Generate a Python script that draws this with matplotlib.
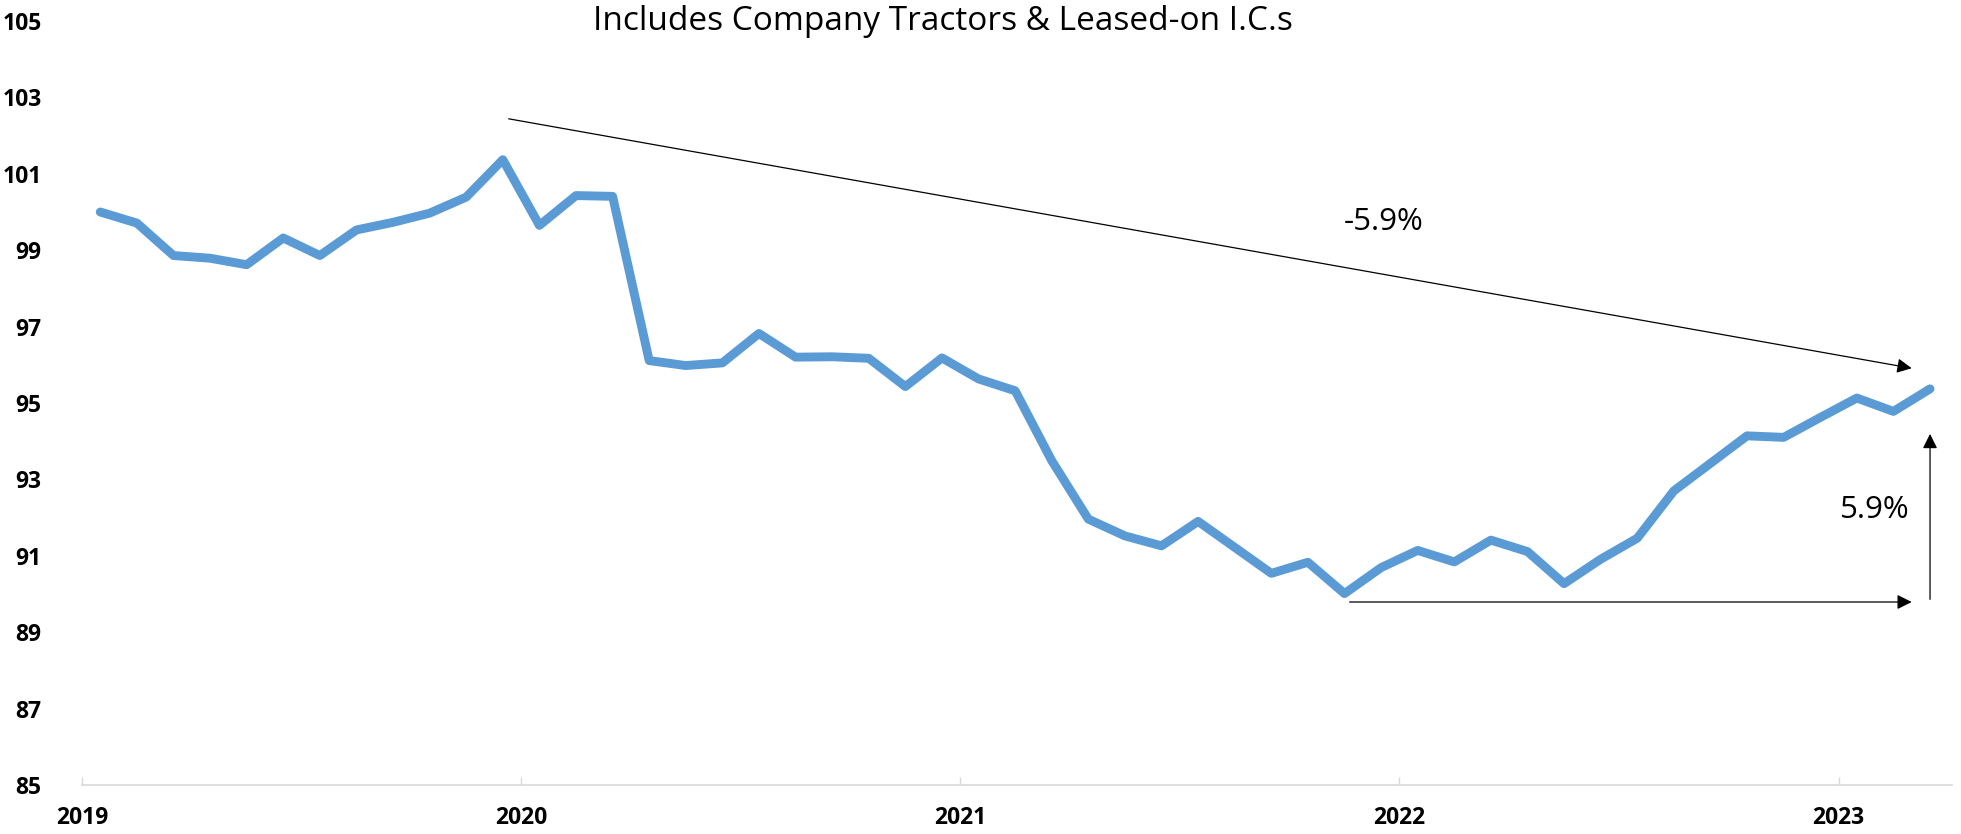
import matplotlib
matplotlib.use("Agg")
import matplotlib.pyplot as plt
import numpy as np

plt.rcParams['font.family'] = ['Open Sans', 'DejaVu Sans']

# Monthly index, Jan 2019 .. Mar 2023
values = [100.00, 99.71, 98.86, 98.79, 98.62, 99.32, 98.86, 99.53, 99.73, 99.97,
          100.39, 101.37, 99.65, 100.43, 100.41, 96.11, 95.98, 96.05, 96.82, 96.20,
          96.21, 96.17, 95.43, 96.18, 95.63, 95.32, 93.49, 91.96, 91.52, 91.26,
          91.90, 91.22, 90.54, 90.83, 90.01, 90.69, 91.14, 90.84, 91.41, 91.11,
          90.27, 90.91, 91.46, 92.70, 93.42, 94.14, 94.10, 94.62, 95.13, 94.78,
          95.37]
year_labels = ["2019", "2020", "2021", "2022", "2023"]
y_ticks = [85, 87, 89, 91, 93, 95, 97, 99, 101, 103, 105]
title = "Includes Company Tractors & Leased-on I.C.s"
down_label = "-5.9%"
up_label = "5.9%"

x = np.arange(len(values))

fig = plt.figure(figsize=(19.61, 8.34), dpi=100)
ax = fig.add_axes([0.0418, 0.0588, 0.9536, 0.9160])

ax.plot(x, values, color='#5B9BD5', lw=6.4, solid_capstyle='round', solid_joinstyle='round', zorder=3)

ax.set_ylim(85, 105)
ax.set_xlim(-0.5, 50.6)
ax.set_yticks(y_ticks)
ax.set_yticklabels([str(v) for v in y_ticks], fontsize=16.5, fontweight='bold')
ax.set_xticks([-0.5 + 12 * i for i in range(len(year_labels))])
ax.set_xticklabels(year_labels, fontsize=16.5, fontweight='bold')
ax.tick_params(axis='y', length=0, pad=29)
ax.tick_params(axis='x', direction='in', length=6, color='#D9D9D9', width=1, pad=15)

for s in ['top', 'right', 'left']:
    ax.spines[s].set_visible(False)
ax.spines['bottom'].set_color('#D9D9D9')
ax.spines['bottom'].set_linewidth(1.2)

arrow = dict(arrowstyle='-|>', color='black', lw=0.9, mutation_scale=22, shrinkA=0, shrinkB=0)
ax.annotate('', xy=(49.5, 95.91), xytext=(11.16, 102.44), arrowprops=arrow)
ax.annotate('', xy=(49.5, 89.79), xytext=(34.14, 89.79), arrowprops=arrow)
ax.annotate('', xy=(50.0, 94.19), xytext=(50.0, 89.86), arrowprops=arrow)

ax.text(35.07, 99.75, down_label, fontsize=22.5, ha='center', va='center')
ax.text(48.5, 92.2, up_label, fontsize=22.5, ha='center', va='center')

fig.text(0.481, 1 - 21 / 834, title, fontsize=24, ha='center', va='center')

fig.savefig('out.png', dpi=100, facecolor='white')
